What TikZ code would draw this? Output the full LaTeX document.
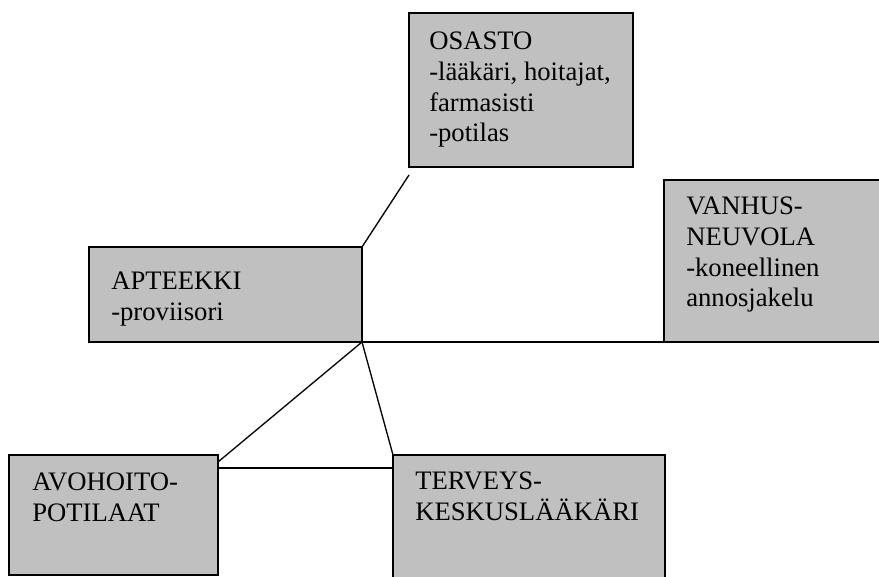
\documentclass[tikz,border=0pt]{standalone}
\usepackage{fontspec}
\setmainfont{Liberation Serif}
\definecolor{boxgrey}{RGB}{192,192,192}
\begin{document}
\begin{tikzpicture}[x=0.75pt, y=-0.75pt,
    box/.style = {draw, line width=1.5pt, fill=boxgrey, anchor=north west, inner sep=0pt, outer sep=0pt},
    txt/.style = {anchor=north west, align=left, inner sep=0pt, font=\fontsize{20}{23}\selectfont},
    link/.style = {line width=1pt}]

    \useasboundingbox (0,0) rectangle (879,577);

    \node[box, minimum width=168pt, minimum height=115.5pt] (osasto) at (409,13) {};
    \node[box, minimum width=204.75pt, minimum height=71.25pt] (apteekki) at (89,247) {};
    \node[box, minimum width=168.75pt, minimum height=121.5pt] (vanhus) at (664,180) {};
    \node[box, minimum width=156.75pt, minimum height=90pt] (avohoito) at (9,455) {};
    \node[box, minimum width=204pt, minimum height=105pt] (terveys) at (393,455) {};

    \node[txt] (osasto-t) at (429,32) {OSASTO\\-lääkäri, hoitajat,\\farmasisti\\-potilas};
    \node[txt] (apteekki-t) at (111,272) {APTEEKKI\\-proviisori};
    \node[txt] (vanhus-t) at (686,197) {VANHUS-\\NEUVOLA\\-koneellinen\\annosjakelu};
    \node[txt] (avohoito-t) at (32,473) {AVOHOITO-\\POTILAAT};
    \node[txt] (terveys-t) at (415,472) {TERVEYS-\\KESKUSLÄÄKÄRI};

    \coordinate (edge) at (885,342);

    \draw[link] (apteekki.north east) -- ([yshift=-6pt]osasto.south west);
    \draw[link] (apteekki.south east) -- (edge);
    \draw[link] (apteekki.south east) -- ([yshift=-5.25pt]avohoito.north east);
    \draw[link] (apteekki.south east) -- (terveys.north west);
    \draw[link] ([yshift=-9.75pt]avohoito.north east) -- ([yshift=-9.75pt]terveys.north west);

\end{tikzpicture}
\end{document}
